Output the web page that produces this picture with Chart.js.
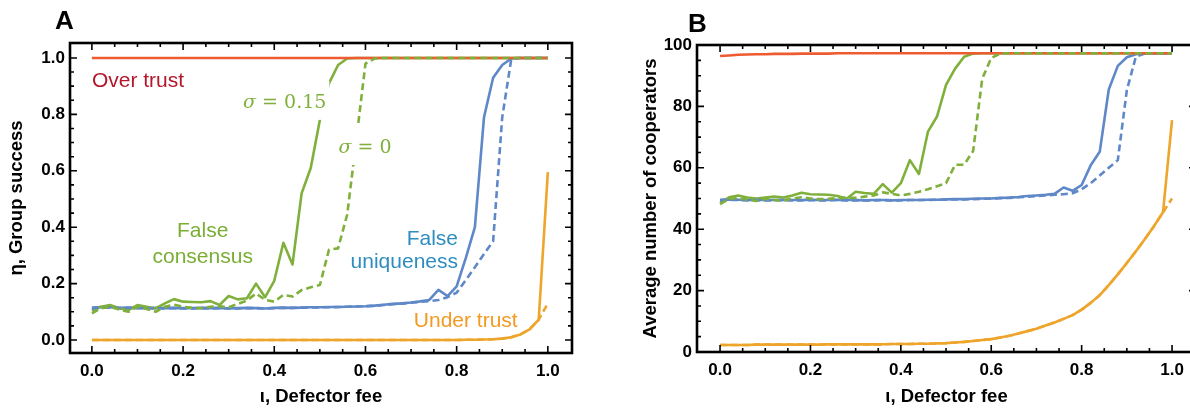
<!DOCTYPE html>
<html>
<head>
<meta charset="utf-8">
<script src="https://cdn.jsdelivr.net/npm/chart.js@4.4.1/dist/chart.umd.min.js"></script>
<style>
  html, body { margin: 0; padding: 0; background: #fff; overflow: hidden; }
  body { width: 1190px; height: 409px; position: relative; }
  #grafA { position: absolute; left: 0; top: 0; }
  #grafB { position: absolute; left: 625px; top: 0; }
</style>
</head>
<body>
<canvas id="grafA" width="590" height="409"></canvas>
<canvas id="grafB" width="575" height="409"></canvas>
<script>
// defector fee (x axis, both panels)
const fee = [0.00, 0.02, 0.04, 0.06, 0.08, 0.10, 0.12, 0.14, 0.16, 0.18,
             0.20, 0.22, 0.24, 0.26, 0.28, 0.30, 0.32, 0.34, 0.36, 0.38,
             0.40, 0.42, 0.44, 0.46, 0.48, 0.50, 0.52, 0.54, 0.56, 0.58,
             0.60, 0.62, 0.64, 0.66, 0.68, 0.70, 0.72, 0.74, 0.76, 0.78,
             0.80, 0.82, 0.84, 0.86, 0.88, 0.90, 0.92, 0.94, 0.96, 0.98, 1.00];

const feeTicks = [0, 0.2, 0.4, 0.6, 0.8, 1.0];
const sucessoTicks = [0, 0.2, 0.4, 0.6, 0.8, 1.0];
const coopTicks = [0, 20, 40, 60, 80, 100];

// A: group success
const sucessoOver = [1, 1, 1, 1, 1, 1, 1, 1, 1, 1,
                     1, 1, 1, 1, 1, 1, 1, 1, 1, 1,
                     1, 1, 1, 1, 1, 1, 1, 1, 1, 1,
                     1, 1, 1, 1, 1, 1, 1, 1, 1, 1,
                     1, 1, 1, 1, 1, 1, 1, 1, 1, 1, 1];
const sucessoConsenso15 = [0.105, 0.118, 0.124, 0.113, 0.106, 0.124, 0.118, 0.112, 0.130, 0.145,
                           0.136, 0.135, 0.134, 0.138, 0.124, 0.156, 0.144, 0.148, 0.200, 0.152,
                           0.210, 0.345, 0.268, 0.520, 0.610, 0.780, 0.910, 0.975, 0.998, 1,
                           1, 1, 1, 1, 1, 1, 1, 1, 1, 1,
                           1, 1, 1, 1, 1, 1, 1, 1, 1, 1, 1];
const sucessoConsenso0 = [0.095, 0.112, 0.118, 0.108, 0.100, 0.118, 0.110, 0.100, 0.118, 0.125,
                          0.118, 0.114, 0.113, 0.118, 0.120, 0.116, 0.128, 0.140, 0.165, 0.142,
                          0.136, 0.160, 0.154, 0.177, 0.187, 0.195, 0.320, 0.325, 0.445, 0.710,
                          0.980, 0.998, 1, 1, 1, 1, 1, 1, 1, 1,
                          1, 1, 1, 1, 1, 1, 1, 1, 1, 1, 1];
const sucessoUnicidade15 = [0.115, 0.117, 0.116, 0.114, 0.115, 0.114, 0.113, 0.114, 0.113, 0.114,
                            0.113, 0.113, 0.114, 0.113, 0.114, 0.112, 0.113, 0.114, 0.113, 0.112,
                            0.114, 0.115, 0.114, 0.115, 0.116, 0.116, 0.117, 0.117, 0.118, 0.119,
                            0.120, 0.122, 0.125, 0.128, 0.130, 0.133, 0.137, 0.142, 0.178, 0.156,
                            0.190, 0.290, 0.400, 0.790, 0.930, 0.975, 0.998, 1, 1, 1, 1];
const sucessoUnicidade0 = [0.112, 0.114, 0.115, 0.113, 0.114, 0.113, 0.112, 0.113, 0.112, 0.113,
                           0.112, 0.112, 0.113, 0.112, 0.113, 0.112, 0.112, 0.113, 0.113, 0.112,
                           0.113, 0.114, 0.114, 0.115, 0.115, 0.116, 0.116, 0.117, 0.118, 0.119,
                           0.120, 0.121, 0.124, 0.127, 0.129, 0.132, 0.135, 0.138, 0.142, 0.152,
                           0.168, 0.212, 0.258, 0.305, 0.350, 0.790, 0.998, 1, 1, 1, 1];
const sucessoUnder15 = [0, 0, 0, 0, 0, 0, 0, 0, 0, 0,
                        0, 0, 0, 0, 0, 0, 0, 0, 0, 0,
                        0, 0, 0, 0, 0, 0, 0, 0, 0, 0,
                        0, 0, 0, 0, 0, 0, 0, 0, 0, 0,
                        0, 0.001, 0.001, 0.002, 0.003, 0.005, 0.010, 0.020, 0.038, 0.072, 0.595];
const sucessoUnder0 = [0, 0, 0, 0, 0, 0, 0, 0, 0, 0,
                       0, 0, 0, 0, 0, 0, 0, 0, 0, 0,
                       0, 0, 0, 0, 0, 0, 0, 0, 0, 0,
                       0, 0, 0, 0, 0, 0, 0, 0, 0, 0,
                       0, 0.001, 0.001, 0.002, 0.003, 0.005, 0.010, 0.020, 0.038, 0.072, 0.130];

// B: average number of cooperators
const coopOver = [96.4, 96.6, 96.8, 96.9, 97.0, 97.0, 97.1, 97.1, 97.1, 97.2,
                  97.2, 97.2, 97.2, 97.3, 97.3, 97.3, 97.3, 97.3, 97.3, 97.3,
                  97.3, 97.3, 97.3, 97.3, 97.3, 97.3, 97.3, 97.3, 97.3, 97.3,
                  97.3, 97.3, 97.3, 97.3, 97.3, 97.3, 97.3, 97.3, 97.3, 97.3,
                  97.3, 97.3, 97.3, 97.3, 97.3, 97.3, 97.3, 97.3, 97.3, 97.3, 97.3];
const coopConsenso15 = [48.6, 50.4, 51.0, 50.3, 50.0, 50.3, 50.6, 50.3, 51.0, 51.9,
                        51.4, 51.3, 51.2, 50.8, 49.9, 52.2, 51.8, 51.5, 54.7, 51.9,
                        55.0, 62.5, 58.0, 71.8, 76.7, 87.0, 92.3, 96.2, 97.2, 97.3,
                        97.3, 97.3, 97.3, 97.3, 97.3, 97.3, 97.3, 97.3, 97.3, 97.3,
                        97.3, 97.3, 97.3, 97.3, 97.3, 97.3, 97.3, 97.3, 97.3, 97.3, 97.3];
const coopConsenso0 = [48.2, 49.8, 50.2, 49.6, 49.2, 49.9, 49.5, 49.3, 50.0, 50.4,
                       50.0, 49.8, 49.9, 50.1, 50.3, 50.2, 50.6, 51.0, 52.0, 51.5,
                       51.0, 51.5, 52.2, 53.0, 54.0, 55.0, 61.0, 61.0, 65.5, 89.0,
                       95.8, 97.2, 97.3, 97.3, 97.3, 97.3, 97.3, 97.3, 97.3, 97.3,
                       97.3, 97.3, 97.3, 97.3, 97.3, 97.3, 97.3, 97.3, 97.3, 97.3, 97.3];
const coopUnicidade15 = [49.6, 49.7, 49.6, 49.5, 49.6, 49.5, 49.5, 49.6, 49.5, 49.5,
                         49.6, 49.5, 49.5, 49.6, 49.5, 49.5, 49.4, 49.5, 49.5, 49.4,
                         49.5, 49.5, 49.5, 49.6, 49.6, 49.7, 49.8, 49.8, 49.9, 50.0,
                         50.0, 50.2, 50.3, 50.5, 50.8, 51.0, 51.2, 51.5, 53.6, 52.5,
                         54.4, 60.8, 65.2, 85.5, 93.2, 96.0, 97.0, 97.3, 97.3, 97.3, 97.3];
const coopUnicidade0 = [49.4, 49.5, 49.5, 49.4, 49.5, 49.4, 49.4, 49.5, 49.4, 49.4,
                        49.5, 49.4, 49.4, 49.5, 49.4, 49.4, 49.4, 49.4, 49.5, 49.4,
                        49.4, 49.5, 49.5, 49.5, 49.6, 49.6, 49.7, 49.7, 49.8, 49.9,
                        50.0, 50.1, 50.2, 50.4, 50.6, 50.8, 51.0, 51.2, 51.4, 51.7,
                        53.0, 55.0, 57.5, 60.0, 62.5, 85.3, 96.2, 97.2, 97.3, 97.3, 97.3];
const coopUnder15 = [2.3, 2.3, 2.3, 2.3, 2.4, 2.4, 2.4, 2.4, 2.4, 2.4,
                     2.4, 2.4, 2.5, 2.5, 2.5, 2.5, 2.5, 2.5, 2.5, 2.6,
                     2.6, 2.6, 2.7, 2.7, 2.8, 2.9, 3.1, 3.3, 3.6, 3.9,
                     4.2, 4.7, 5.3, 6.0, 6.8, 7.6, 8.6, 9.6, 10.8, 12.0,
                     13.8, 16.0, 18.5, 21.8, 25.3, 29.0, 32.8, 36.8, 41.0, 45.5, 75.5];
const coopUnder0 = [2.3, 2.3, 2.3, 2.3, 2.4, 2.4, 2.4, 2.4, 2.4, 2.4,
                    2.4, 2.4, 2.5, 2.5, 2.5, 2.5, 2.5, 2.5, 2.5, 2.6,
                    2.6, 2.6, 2.7, 2.7, 2.8, 2.9, 3.1, 3.3, 3.6, 3.9,
                    4.2, 4.7, 5.3, 6.0, 6.8, 7.6, 8.6, 9.6, 10.8, 12.0,
                    13.8, 16.0, 18.5, 21.8, 25.3, 29.0, 32.8, 36.8, 41.0, 45.5, 50.0];

const cores = { over: '#EF5B30', consenso: '#80B03C', unicidade: '#5F88C8', under: '#EEA52B' };
const SANS = '"Liberation Sans", Arial, sans-serif';
const SERIF = '"DejaVu Serif", serif';

// moldura + ticks para dentro nos quatro lados
const moldura = {
    id: 'moldura',
    afterDraw(chart, args, opts) {
        const { ctx, chartArea: a, scales: { x, y } } = chart;
        ctx.save();
        ctx.strokeStyle = '#000';
        ctx.lineWidth = 1.6;
        ctx.beginPath();
        for (let i = 0; i <= 20; i++) {
            const px = x.getPixelForValue(i * opts.xMenor);
            const len = i % 4 === 0 ? 7 : 4;
            ctx.moveTo(px, a.bottom); ctx.lineTo(px, a.bottom - len);
            ctx.moveTo(px, a.top); ctx.lineTo(px, a.top + len);
            const py = y.getPixelForValue(i * opts.yMenor);
            ctx.moveTo(a.left, py); ctx.lineTo(a.left + len, py);
            ctx.moveTo(a.right, py); ctx.lineTo(a.right - len, py);
        }
        ctx.stroke();
        ctx.lineWidth = 2.6;
        ctx.strokeRect(a.left, a.top, a.right - a.left, a.bottom - a.top);

        ctx.fillStyle = '#000';
        ctx.font = 'bold 26px ' + SANS;
        ctx.textBaseline = 'alphabetic';
        ctx.fillText(opts.letra, opts.letraX, opts.letraY);
        ctx.restore();
    }
};

// rótulos de texto em coordenadas de dados
const rotulos = {
    id: 'rotulos',
    afterDatasetsDraw(chart, args, opts) {
        const { ctx, scales: { x, y } } = chart;
        ctx.save();
        ctx.textBaseline = 'alphabetic';
        ctx.textAlign = 'left';
        (opts.itens || []).forEach(r => {
            const px = x.getPixelForValue(r.x);
            const py = y.getPixelForValue(r.y);
            const partes = r.partes || [{ t: r.texto, font: r.font }];
            let w = 0;
            partes.forEach(p => { ctx.font = p.font; p.w = ctx.measureText(p.t).width; w += p.w; });
            let x0 = r.align === 'left' ? px : (r.align === 'right' ? px - w : px - w / 2);
            if (r.fundo) {
                ctx.fillStyle = '#fff';
                ctx.fillRect(x0 - 3, py - 27, w + 6, 39);
            }
            ctx.fillStyle = r.cor;
            partes.forEach(p => { ctx.font = p.font; ctx.fillText(p.t, x0, py); x0 += p.w; });
        });
        ctx.restore();
    }
};

function pontos(serie) {
    return fee.map((f, i) => ({ x: f, y: serie[i] }));
}

function linha(serie, cor, tracejado) {
    return {
        data: pontos(serie),
        borderColor: cor,
        borderWidth: 2.6,
        borderDash: tracejado ? [7, 4] : [],
        borderJoinStyle: 'round',
        pointRadius: 0,
        fill: false,
        tension: 0
    };
}

function setupOptions(cfg) {
    return {
        responsive: false,
        animation: false,
        events: [],
        layout: { padding: { top: cfg.top, right: cfg.right, left: 0, bottom: 0 } },
        scales: {
            x: {
                type: 'linear',
                min: cfg.xMin, max: cfg.xMax,
                afterBuildTicks: s => { s.ticks = feeTicks.map(v => ({ value: v })); },
                afterFit: s => { s.height = cfg.xAltura; },
                grid: { display: false, drawTicks: false },
                border: { display: false },
                ticks: {
                    color: '#000', padding: 8, autoSkip: false, maxRotation: 0,
                    font: { family: SANS, size: 17, weight: 'bold' },
                    callback: v => v.toFixed(1)
                },
                title: {
                    display: true, text: 'ι, Defector fee', color: '#000',
                    font: { family: SANS, size: 18.5, weight: 'bold' },
                    padding: { top: 0, bottom: 1 }
                }
            },
            y: {
                type: 'linear',
                min: cfg.yMin, max: cfg.yMax,
                afterBuildTicks: s => { s.ticks = cfg.yTicks.map(v => ({ value: v })); },
                afterFit: s => { s.width = cfg.yLargura; },
                grid: { display: false, drawTicks: false },
                border: { display: false },
                ticks: {
                    color: '#000', padding: 5, autoSkip: false,
                    font: { family: SANS, size: 17, weight: 'bold' },
                    callback: v => v.toFixed(cfg.yCasas)
                },
                title: {
                    display: true, text: cfg.yTitulo, color: '#000',
                    font: { family: SANS, size: 18.5, weight: 'bold' },
                    padding: { top: cfg.yTituloPad, bottom: 0 }
                }
            }
        },
        plugins: {
            legend: { display: false },
            tooltip: { enabled: false },
            moldura: cfg.moldura,
            rotulos: { itens: cfg.rotulos || [] }
        }
    };
}

window.onload = () => {
    const ctxA = document.getElementById('grafA').getContext('2d');
    const ctxB = document.getElementById('grafB').getContext('2d');

    new Chart(ctxA, {
        type: 'line',
        data: {
            datasets: [
                linha(sucessoConsenso0, cores.consenso, true),
                linha(sucessoOver, cores.over, false),
                linha(sucessoUnicidade0, cores.unicidade, true),
                linha(sucessoUnder0, cores.under, true),
                linha(sucessoConsenso15, cores.consenso, false),
                linha(sucessoUnicidade15, cores.unicidade, false),
                linha(sucessoUnder15, cores.under, false)
            ]
        },
        options: setupOptions({
            top: 43, right: 18, xAltura: 56, yLargura: 70,
            xMin: -0.048, xMax: 1.053, yMin: -0.046, yMax: 1.053,
            yTicks: sucessoTicks, yCasas: 1,
            yTitulo: 'η, Group success', yTituloPad: 6,
            moldura: { xMenor: 0.05, yMenor: 0.05, letra: 'A', letraX: 55, letraY: 29 },
            rotulos: [
                { texto: 'Over trust', x: 0, y: 0.897, align: 'left', cor: '#B3172B', font: '21px ' + SANS },
                { x: 0.423, y: 0.823, align: 'center', cor: cores.consenso, fundo: true,
                  partes: [{ t: 'σ', font: 'italic 19px ' + SERIF }, { t: ' = 0.15', font: '19px ' + SERIF }] },
                { x: 0.599, y: 0.663, align: 'center', cor: cores.consenso, fundo: true,
                  partes: [{ t: 'σ', font: 'italic 19px ' + SERIF }, { t: ' = 0', font: '19px ' + SERIF }] },
                { texto: 'False', x: 0.243, y: 0.365, align: 'center', cor: '#7AAD33', font: '21px ' + SANS },
                { texto: 'consensus', x: 0.243, y: 0.273, align: 'center', cor: '#7AAD33', font: '21px ' + SANS },
                { texto: 'False', x: 0.803, y: 0.337, align: 'right', cor: '#2E8DBF', font: '21px ' + SANS },
                { texto: 'uniqueness', x: 0.803, y: 0.255, align: 'right', cor: '#2E8DBF', font: '21px ' + SANS },
                { texto: 'Under trust', x: 0.82, y: 0.046, align: 'center', cor: '#F39A22', font: '21px ' + SANS }
            ]
        }),
        plugins: [moldura, rotulos]
    });

    new Chart(ctxB, {
        type: 'line',
        data: {
            datasets: [
                linha(coopConsenso0, cores.consenso, true),
                linha(coopOver, cores.over, false),
                linha(coopUnicidade0, cores.unicidade, true),
                linha(coopUnder0, cores.under, true),
                linha(coopConsenso15, cores.consenso, false),
                linha(coopUnicidade15, cores.unicidade, false),
                linha(coopUnder15, cores.under, false)
            ]
        },
        options: setupOptions({
            top: 45, right: 4, xAltura: 57, yLargura: 72,
            xMin: -0.051, xMax: 1.053, yMin: 0, yMax: 100,
            yTicks: coopTicks, yCasas: 0,
            yTitulo: 'Average number of cooperators', yTituloPad: 15,
            moldura: { xMenor: 0.05, yMenor: 5, letra: 'B', letraX: 63, letraY: 32 }
        }),
        plugins: [moldura, rotulos]
    });
};
</script>
</body>
</html>
